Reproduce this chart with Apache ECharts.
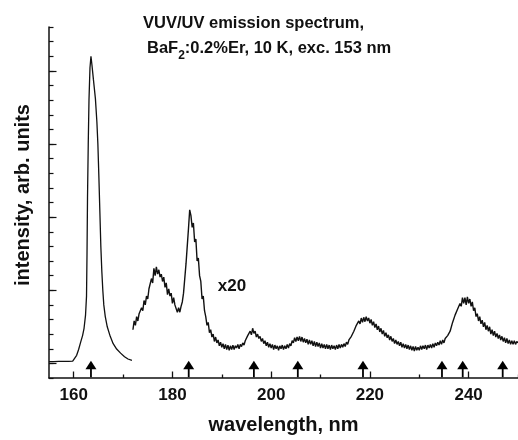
<!DOCTYPE html>
<html>
<head>
<meta charset="utf-8">
<script src="https://cdn.jsdelivr.net/npm/echarts@6/dist/echarts.min.js"></script>
<style>html,body{margin:0;padding:0;background:#fff}#c{width:518px;height:440px}</style>
</head>
<body>
<div id="c"></div>
<script>
// Main (unscaled) emission band
var mainBand = [[155,0.12],[156,0.12],[157,0.13],[158,0.13],[159,0.14],[159.8,0.15],[160.2,0.25],[160.6,0.55],[161.0,0.95],[161.4,1.44],[161.8,1.9],[162.1,2.4],[162.4,3.3],[162.6,4.6],[162.7,7.5],[162.8,11.3],[162.95,15],[163.1,18.0],[163.3,20.2],[163.5,21.0],[163.7,20.4],[164.0,19.4],[164.4,18.1],[164.7,16.5],[164.9,15.0],[165.1,12.8],[165.3,10.4],[165.5,8.0],[165.7,6.3],[165.9,5.0],[166.1,4.0],[166.4,3.2],[166.8,2.5],[167.4,1.85],[168.0,1.35],[168.7,0.98],[169.5,0.7],[170.3,0.45],[171.0,0.3],[171.8,0.2]];

// x20 magnified spectrum
var x20Band = [
[172.0,2.3],[172.25,2.9],[172.5,2.6],[172.75,3.2],[173.0,2.9],[173.25,3.4],[173.5,3.3],[173.75,3.8],
[174.0,3.6],[174.25,4.3],[174.5,4.0],[174.75,4.6],[175.0,4.4],[175.25,5.1],[175.5,5.0],[175.75,5.8],
[176.0,5.5],[176.25,6.5],[176.5,6.0],[176.75,6.6],[177.0,6.1],[177.25,6.4],[177.5,5.9],[177.75,6.1],
[178.0,5.6],[178.25,5.9],[178.5,5.2],[178.75,5.5],[179.0,4.7],[179.25,5.1],[179.5,4.6],[179.75,4.8],
[180.0,4.1],[180.25,4.5],[180.5,4.0],[180.75,4.1],[181.0,3.5],[181.25,3.8],[181.5,3.5],[181.75,3.9],
[182.0,4.2],[182.25,4.8],[182.5,5.8],[182.75,6.8],[183.0,8.0],[183.25,9.2],[183.5,10.5],[183.75,10.1],
[184.0,9.3],[184.25,9.6],[184.5,8.3],[184.75,8.5],[185.0,7.0],[185.25,7.2],[185.5,6.0],[185.75,5.6],
[186.0,4.4],[186.25,4.6],[186.5,3.6],[186.75,3.2],[187.0,2.6],[187.25,2.8],[187.5,2.1],[187.75,2.3],
[188.0,1.8],[188.25,2.0],[188.5,1.5],[188.75,1.8],[189.0,1.4],[189.25,1.6],[189.5,1.2],[189.75,1.45],
[190.0,1.1],[190.25,1.35],[190.5,1.0],[190.75,1.3],[191.0,0.95],[191.25,1.25],[191.5,0.9],[191.75,1.2],
[192.0,0.95],[192.25,1.25],[192.5,0.95],[192.75,1.2],[193.0,1.05],[193.25,1.3],[193.5,1.0],[193.75,1.3],
[194.0,1.15],[194.25,1.4],[194.5,1.25],[194.75,1.55],[195.0,1.6],[195.25,1.9],[195.5,1.8],[195.75,2.2],
[196.0,1.95],[196.25,2.4],[196.5,2.05],[196.75,2.2],[197.0,1.8],[197.25,2.0],[197.5,1.7],[197.75,1.85],
[198.0,1.5],[198.25,1.7],[198.5,1.35],[198.75,1.55],[199.0,1.2],[199.25,1.45],[199.5,1.1],[199.75,1.35],
[200.0,1.05],[200.25,1.3],[200.5,0.95],[200.75,1.25],[201.0,1.0],[201.25,1.2],[201.5,0.9],[201.75,1.2],
[202.0,1.0],[202.25,1.25],[202.5,0.95],[202.75,1.2],[203.0,1.0],[203.25,1.3],[203.5,1.05],[203.75,1.35],
[204.0,1.2],[204.25,1.55],[204.5,1.4],[204.75,1.75],[205.0,1.5],[205.25,1.8],[205.5,1.55],[205.75,1.85],
[206.0,1.5],[206.25,1.8],[206.5,1.45],[206.75,1.7],[207.0,1.4],[207.25,1.65],[207.5,1.3],[207.75,1.6],
[208.0,1.3],[208.25,1.55],[208.5,1.2],[208.75,1.5],[209.0,1.15],[209.25,1.45],[209.5,1.15],[209.75,1.4],
[210.0,1.05],[210.25,1.35],[210.5,1.05],[210.75,1.3],[211.0,1.0],[211.25,1.3],[211.5,1.0],[211.75,1.25],
[212.0,0.95],[212.25,1.25],[212.5,1.0],[212.75,1.2],[213.0,0.95],[213.25,1.25],[213.5,1.0],[213.75,1.3],
[214.0,1.05],[214.25,1.3],[214.5,1.1],[214.75,1.35],[215.0,1.15],[215.25,1.45],[215.5,1.3],[215.75,1.6],
[216.0,1.5],[216.25,1.85],[216.5,1.8],[216.75,2.2],[217.0,2.1],[217.25,2.6],[217.5,2.5],[217.75,2.9],
[218.0,2.7],[218.25,3.1],[218.5,2.8],[218.75,3.15],[219.0,2.85],[219.25,3.2],[219.5,2.9],[219.75,3.1],
[220.0,2.75],[220.25,3.0],[220.5,2.6],[220.75,2.85],[221.0,2.45],[221.25,2.7],[221.5,2.3],[221.75,2.55],
[222.0,2.15],[222.25,2.4],[222.5,2.0],[222.75,2.25],[223.0,1.85],[223.25,2.1],[223.5,1.75],[223.75,1.95],
[224.0,1.6],[224.25,1.85],[224.5,1.5],[224.75,1.7],[225.0,1.35],[225.25,1.6],[225.5,1.3],[225.75,1.5],
[226.0,1.2],[226.25,1.45],[226.5,1.1],[226.75,1.35],[227.0,1.05],[227.25,1.3],[227.5,1.0],[227.75,1.25],
[228.0,0.95],[228.25,1.2],[228.5,0.9],[228.75,1.15],[229.0,0.85],[229.25,1.15],[229.5,0.9],[229.75,1.1],
[230.0,0.9],[230.25,1.2],[230.5,0.95],[230.75,1.2],[231.0,1.0],[231.25,1.25],[231.5,0.95],[231.75,1.25],
[232.0,1.05],[232.25,1.3],[232.5,1.05],[232.75,1.35],[233.0,1.1],[233.25,1.4],[233.5,1.2],[233.75,1.45],
[234.0,1.25],[234.25,1.55],[234.5,1.3],[234.75,1.6],[235.0,1.4],[235.25,1.7],[235.5,1.6],[235.75,1.9],
[236.0,1.85],[236.25,2.2],[236.5,2.3],[236.75,2.8],[237.0,2.9],[237.25,3.3],[237.5,3.3],[237.75,3.7],
[238.0,3.6],[238.25,4.1],[238.5,3.9],[238.75,4.5],[239.0,4.1],[239.25,4.5],[239.5,4.0],[239.75,4.55],
[240.0,4.1],[240.25,4.4],[240.5,3.9],[240.75,4.2],[241.0,3.6],[241.25,3.8],[241.5,3.2],[241.75,3.4],
[242.0,2.9],[242.25,3.2],[242.5,2.7],[242.75,2.95],[243.0,2.5],[243.25,2.8],[243.5,2.3],[243.75,2.6],
[244.0,2.2],[244.25,2.5],[244.5,2.0],[244.75,2.3],[245.0,1.9],[245.25,2.2],[245.5,1.8],[245.75,2.05],
[246.0,1.7],[246.25,1.95],[246.5,1.6],[246.75,1.85],[247.0,1.5],[247.25,1.75],[247.5,1.4],[247.75,1.7],
[248.0,1.35],[248.25,1.6],[248.5,1.3],[248.75,1.55],[249.0,1.3],[249.25,1.55],[249.5,1.3],[249.75,1.5],
[250.0,1.4]];

// Arrow markers (transition positions, nm)
var arrowPositions = [163.5, 183.3, 196.5, 205.4, 218.6, 234.6, 238.8, 246.9];

// Axis ticks / labels
var xMajorTicks = [160, 180, 200, 220, 240];
var xMinorTicks = [170, 190, 210, 230, 250];
var yMajorTicks = [0, 5, 10, 15, 20];

var FONT = 'Liberation Sans, Arial, Helvetica, sans-serif';
var INK = '#111';

var chart = echarts.init(document.getElementById('c'), null, {renderer: 'canvas'});
var option = {
  animation: false,
  backgroundColor: '#fff',
  grid: {left: 49, right: 0, top: 27, bottom: 58, containLabel: false},
  xAxis: [{
    type: 'value', min: 155, max: 250, position: 'bottom',
    splitLine: {show: false},
    axisLine: {show: true, onZero: false, lineStyle: {color: INK, width: 1.5}},
    axisTick: {show: true, inside: true, length: 6.5, customValues: xMajorTicks, lineStyle: {color: INK, width: 1.3}},
    axisLabel: {show: true, customValues: xMajorTicks, margin: 9, color: INK, fontFamily: FONT, fontWeight: 'bold', fontSize: 17},
    name: 'wavelength, nm', nameLocation: 'middle', nameGap: 37,
    nameTextStyle: {color: INK, fontFamily: FONT, fontWeight: 'bold', fontSize: 20}
  }, {
    type: 'value', min: 155, max: 250, position: 'bottom',
    splitLine: {show: false},
    axisLine: {show: false, onZero: false},
    axisTick: {show: true, inside: true, length: 3.5, customValues: xMinorTicks, lineStyle: {color: INK, width: 1.3}},
    axisLabel: {show: false}
  }],
  yAxis: [{
    type: 'value', min: -1, max: 23, interval: 1, position: 'left',
    splitLine: {show: false},
    axisLine: {show: true, onZero: false, lineStyle: {color: INK, width: 1.5}},
    axisTick: {show: true, inside: true, length: 4.5, lineStyle: {color: INK, width: 1.2}},
    axisLabel: {show: false}
  }, {
    type: 'value', min: -1, max: 23, position: 'left',
    splitLine: {show: false},
    axisLine: {show: false, onZero: false},
    axisTick: {show: true, inside: true, length: 7.5, customValues: yMajorTicks, lineStyle: {color: INK, width: 1.2}},
    axisLabel: {show: false}
  }],
  graphic: [
    {type: 'text', x: 143, y: 23.5, style: {text: 'VUV/UV emission spectrum,', fill: INK, font: 'bold 16.5px ' + FONT, textVerticalAlign: 'middle', textAlign: 'left'}},
    {type: 'text', x: 147, y: 49.5, style: {
      text: '{m|BaF}{s|2}{m|:0.2%Er, 10 K, exc. 153 nm}',
      fill: INK, textVerticalAlign: 'middle', textAlign: 'left',
      rich: {
        m: {fontFamily: FONT, fontWeight: 'bold', fontSize: 16.5, lineHeight: 20, verticalAlign: 'top', fill: INK},
        s: {fontFamily: FONT, fontWeight: 'bold', fontSize: 12, lineHeight: 12, padding: [10, 0, 0, 0], verticalAlign: 'top', fill: INK}
      }
    }},
    {type: 'text', x: 232, y: 286, style: {text: 'x20', fill: INK, font: 'bold 17px ' + FONT, textVerticalAlign: 'middle', textAlign: 'center'}},
    {type: 'text', x: 23, y: 195, rotation: Math.PI / 2, style: {text: 'intensity, arb. units', fill: INK, font: 'bold 20px ' + FONT, textVerticalAlign: 'middle', textAlign: 'center'}}
  ],
  series: [{
    type: 'line', xAxisIndex: 0, yAxisIndex: 0, data: mainBand, showSymbol: false, silent: true,
    lineStyle: {color: INK, width: 1.3}
  }, {
    type: 'line', xAxisIndex: 0, yAxisIndex: 0, data: x20Band, showSymbol: false, silent: true,
    lineStyle: {color: INK, width: 1.4}
  }, {
    type: 'custom', xAxisIndex: 0, yAxisIndex: 0, silent: true, clip: false,
    data: arrowPositions.map(function (x) { return [x, -1]; }),
    renderItem: function (params, api) {
      var p = api.coord([api.value(0), api.value(1)]);
      var x = p[0], y = p[1] - 0.8;
      return {
        type: 'group',
        children: [
          {type: 'rect', shape: {x: x - 0.9, y: y - 9, width: 1.8, height: 9}, style: {fill: '#000'}},
          {type: 'polygon', shape: {points: [[x - 5.5, y - 8], [x + 5.5, y - 8], [x, y - 16.5]]}, style: {fill: '#000'}}
        ]
      };
    }
  }]
};
chart.setOption(option);
</script>
</body>
</html>
